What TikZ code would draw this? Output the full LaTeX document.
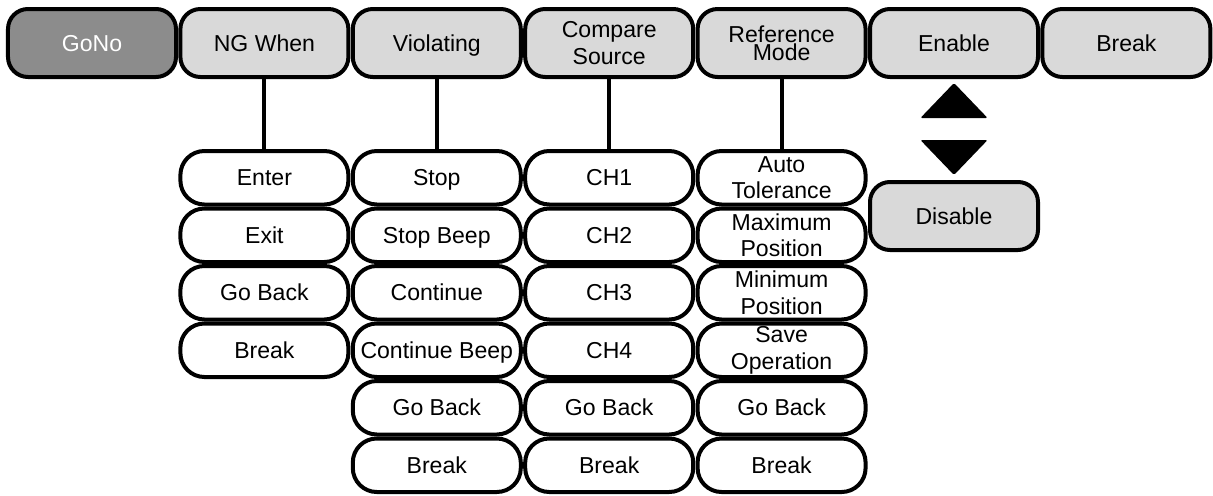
\documentclass[tikz,border=0pt]{standalone}
\usepackage{fontspec}
\setmainfont{Liberation Sans}
\usetikzlibrary{positioning,calc}
\definecolor{menugray}{HTML}{D9D9D9}
\definecolor{activegray}{HTML}{8C8C8C}
\tikzset{
  menukey/.style={draw, line width=0.1cm, rounded corners=0.5cm, fill=menugray, minimum width=4.2cm, minimum height=1.7cm, align=center, inner sep=1pt, text height=12pt, text depth=0.5pt},
  activekey/.style={menukey, fill=activegray, text=white},
  subkey/.style={draw, line width=0.1cm, rounded corners=0.6cm, fill=white, minimum width=4.2cm, minimum height=1.3375cm, align=center, inner sep=1pt, text height=12pt, text depth=0.5pt},
  twoline/.style={text height={}, text depth={}},
  menulink/.style={line width=0.1cm},
  flipmark/.style={fill=black, rounded corners=1pt}
}

\begin{document}
\begin{tikzpicture}[every node/.style={font=\fontsize{16.4}{19}\selectfont}]
  \useasboundingbox (-2.3,1.075) rectangle (28.025,-11.3);
  \node[activekey] (gono) at (0,0) {GoNo};
  \node[menukey] (ngwhen) at (4.31,0) {NG When};
  \node[menukey] (violating) at (8.62,0) {Violating};
  \node[menukey, twoline] (compare) at (12.93,0) {Compare\\ Source};
  \node[menukey, twoline] (refmode) at (17.24,0) {Reference\\[-6pt] Mode};
  \node[menukey] (enable) at (21.55,0) {Enable};
  \node[menukey] (brk) at (25.86,0) {Break};

  \node[subkey, below=1.75cm of ngwhen] (enter) {Enter};
  \node[subkey, below=0cm of enter] (exit) {Exit};
  \node[subkey, below=0cm of exit] (ngback) {Go Back};
  \node[subkey, below=0cm of ngback] (ngbreak) {Break};

  \node[subkey, below=1.75cm of violating] (stop) {Stop};
  \node[subkey, below=0cm of stop] (stopbeep) {Stop Beep};
  \node[subkey, below=0cm of stopbeep] (cont) {Continue};
  \node[subkey, below=0cm of cont] (contbeep) {Continue Beep};
  \node[subkey, below=0cm of contbeep] (vback) {Go Back};
  \node[subkey, below=0cm of vback] (vbreak) {Break};

  \node[subkey, below=1.75cm of compare] (ch1) {CH1};
  \node[subkey, below=0cm of ch1] (ch2) {CH2};
  \node[subkey, below=0cm of ch2] (ch3) {CH3};
  \node[subkey, below=0cm of ch3] (ch4) {CH4};
  \node[subkey, below=0cm of ch4] (cback) {Go Back};
  \node[subkey, below=0cm of cback] (cbreak) {Break};

  \node[subkey, twoline, below=1.75cm of refmode] (autotol) {Auto\\ Tolerance};
  \node[subkey, twoline, below=0cm of autotol] (maxpos) {Maximum\\ Position};
  \node[subkey, twoline, below=0cm of maxpos] (minpos) {Minimum\\ Position};
  \node[subkey, twoline, below=0cm of minpos] (saveop) {Save\\ Operation};
  \node[subkey, below=0cm of saveop] (rback) {Go Back};
  \node[subkey, below=0cm of rback] (rbreak) {Break};

  \node[menukey, below=2.525cm of enable] (disable) {Disable};

  \draw[menulink] (ngwhen) -- (enter);
  \draw[menulink] (violating) -- (stop);
  \draw[menulink] (compare) -- (ch1);
  \draw[menulink] (refmode) -- (autotol);
  \fill[flipmark] ($(enable.south)+(0,-0.1)$) -- ++(0.84,-0.875) -- ++(-1.68,0) -- cycle;
  \fill[flipmark] ($(disable.north)+(0,0.125)$) -- ++(0.84,0.875) -- ++(-1.68,0) -- cycle;
\end{tikzpicture}
\end{document}
